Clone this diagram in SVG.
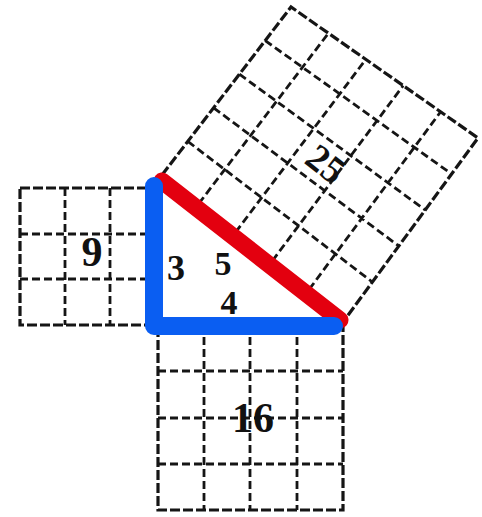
<svg xmlns="http://www.w3.org/2000/svg" width="482" height="517" viewBox="0 0 482 517">
<style>
.g{fill:none;stroke:#151515;stroke-width:2.8;stroke-dasharray:8 4}
.b{stroke:#151515;stroke-width:3.2;fill:none;stroke-dasharray:10 3}
.t{font-family:"Liberation Serif",serif;font-weight:bold;fill:#111}
</style>
<rect width="482" height="517" fill="#fff"/>
<g id="square9">
<rect class="b" x="20" y="188" width="135" height="137"/>
<path class="g" d="M65 188V325M110 188V325M20 234H155M20 279H155"/>
<text class="t" x="92" y="266" font-size="42" text-anchor="middle">9</text>
</g>
<g id="square16">
<rect class="b" x="158" y="325" width="185" height="185"/>
<path class="g" d="M204 325V510M250 325V510M297 325V510M158 371H343M158 418H343M158 464H343"/>
<text class="t" x="253" y="432" font-size="42" text-anchor="middle">16</text>
</g>
<g id="square25">
<path class="b" d="M162 175L291 7L478 138L346 318Z"/>
<path class="g" d="M198.8 203.6L328.4 33.2M235.6 232.2L365.8 59.4M272.4 260.8L403.2 85.6M309.2 289.4L440.6 111.8M187.8 141.4L372.4 282M213.6 107.8L398.8 246M239.4 74.2L425.2 210M265.2 40.6L451.6 174"/>
<text class="t" x="0" y="0" font-size="38" text-anchor="middle" transform="translate(318 174) rotate(38)">25</text>
</g>
<g id="labels">
<text class="t" x="176" y="280" font-size="36" text-anchor="middle">3</text>
<text class="t" x="223" y="275" font-size="34" text-anchor="middle">5</text>
<text class="t" x="229" y="314" font-size="34" text-anchor="middle">4</text>
</g>
<g id="triangle">
<line x1="162" y1="181" x2="340" y2="320" stroke="#e3000f" stroke-width="17" stroke-linecap="round"/>
<path d="M154 186V326H334" fill="none" stroke="#0a5ef2" stroke-width="18" stroke-linecap="round" stroke-linejoin="round"/>
</g>
</svg>
